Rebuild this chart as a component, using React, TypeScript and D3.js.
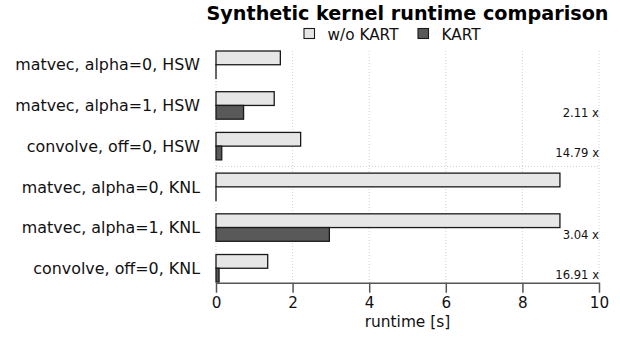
import React, { useRef, useEffect } from 'react';
import * as d3 from 'd3';

const categories = [
	'matvec, alpha=0, HSW',
	'matvec, alpha=1, HSW',
	'convolve, off=0, HSW',
	'matvec, alpha=0, KNL',
	'matvec, alpha=1, KNL',
	'convolve, off=0, KNL',
];
const withoutKart = [1.68, 1.52, 2.21, 8.98, 8.98, 1.35];
const withKart = [0, 0.72, 0.15, 0, 2.96, 0.08];
const speedupLabels = ['', '2.11 x', '14.79 x', '', '3.04 x', '16.91 x'];
const xTicks = [0, 2, 4, 6, 8, 10];
const seriesNames = ['w/o KART', 'KART'];
const seriesColors = ['#e6e6e6', '#595959'];

const width = 620;
const height = 337;
const marginLeft = 216;
const marginRight = 21;
const plotTop = 51;
const plotBottom = 282;
const font = '"DejaVu Sans", sans-serif';

const App: React.FC = () => {
	const svgRef = useRef<SVGSVGElement | null>(null);

	useEffect(() => {
		if (!svgRef.current) return;
		const svg = d3.select(svgRef.current);
		svg.selectAll('*').remove();

		const x = d3.scaleLinear().domain([0, 10]).range([marginLeft, width - marginRight]);
		const y = d3.scaleBand<string>()
			.domain(categories)
			.range([plotTop, plotBottom])
			.paddingInner(0.325)
			.paddingOuter(0);
		const sub = d3.scaleBand<string>().domain(seriesNames).range([0, y.bandwidth()]);

		// grid
		const grid = svg.append('g');
		grid.selectAll('line.v')
			.data(xTicks)
			.join('line')
			.attr('x1', d => x(d)).attr('x2', d => x(d))
			.attr('y1', plotTop).attr('y2', plotBottom)
			.attr('stroke', '#c8c8c8')
			.attr('stroke-width', 0.8)
			.attr('stroke-dasharray', '1,2');
		// separator between HSW and KNL groups
		const sepY = ((y(categories[2]) as number) + y.bandwidth() + (y(categories[3]) as number)) / 2;
		grid.append('line')
			.attr('x1', marginLeft).attr('x2', width - marginRight)
			.attr('y1', sepY).attr('y2', sepY)
			.attr('stroke', '#c8c8c8')
			.attr('stroke-width', 0.8)
			.attr('stroke-dasharray', '1,2');

		// bars
		const groups = svg.append('g')
			.selectAll('g')
			.data(categories)
			.join('g')
			.attr('transform', d => `translate(0,${y(d)})`);

		groups.append('rect')
			.attr('x', x(0))
			.attr('y', sub(seriesNames[0]) as number)
			.attr('width', (_, i) => Math.max(x(withoutKart[i]) - x(0), 0.01))
			.attr('height', sub.bandwidth())
			.attr('fill', seriesColors[0])
			.attr('stroke', '#1a1a1a')
			.attr('stroke-width', 1.3);

		groups.append('rect')
			.attr('x', x(0))
			.attr('y', sub(seriesNames[1]) as number)
			.attr('width', (_, i) => Math.max(x(withKart[i]) - x(0), 0.01))
			.attr('height', sub.bandwidth())
			.attr('fill', seriesColors[1])
			.attr('stroke', '#1a1a1a')
			.attr('stroke-width', 1.3);

		// category labels
		groups.append('text')
			.attr('x', marginLeft - 16)
			.attr('y', y.bandwidth() / 2)
			.attr('dy', '0.36em')
			.attr('text-anchor', 'end')
			.attr('font-family', font)
			.attr('font-size', 15.9)
			.attr('fill', '#111')
			.text(d => d);

		// speedup labels
		groups.append('text')
			.attr('x', x(10))
			.attr('y', y.bandwidth() - 2.5)
			.attr('text-anchor', 'end')
			.attr('font-family', font)
			.attr('font-size', 11.6)
			.attr('fill', '#111')
			.text((_, i) => speedupLabels[i]);

		// x-axis
		const axis = svg.append('g')
			.attr('transform', `translate(0,${plotBottom + 0.7})`)
			.call(d3.axisBottom(x).tickValues(xTicks).tickSize(10).tickPadding(4.5).tickSizeOuter(0));
		axis.select('.domain').attr('stroke', '#555').attr('stroke-width', 1.5);
		axis.selectAll('.tick line').attr('stroke', '#555').attr('stroke-width', 1.5);
		axis.selectAll('.tick text')
			.attr('font-family', font)
			.attr('font-size', 15.2)
			.attr('fill', '#111');

		svg.append('text')
			.attr('x', (x(0) + x(10)) / 2)
			.attr('y', 326.5)
			.attr('text-anchor', 'middle')
			.attr('font-family', font)
			.attr('font-size', 15.4)
			.attr('fill', '#111')
			.text('runtime [s]');

		// title
		svg.append('text')
			.attr('x', (x(0) + x(10)) / 2)
			.attr('y', 20.3)
			.attr('text-anchor', 'middle')
			.attr('font-family', font)
			.attr('font-size', 19.2)
			.attr('font-weight', 'bold')
			.attr('fill', '#000')
			.text('Synthetic kernel runtime comparison');

		// legend
		const legendX = [304, 418];
		const legend = svg.append('g')
			.selectAll('g')
			.data(seriesNames)
			.join('g')
			.attr('transform', (_, i) => `translate(${legendX[i]},28.5)`);
		legend.append('rect')
			.attr('width', 10.5)
			.attr('height', 10)
			.attr('fill', (_, i) => seriesColors[i])
			.attr('stroke', '#1a1a1a')
			.attr('stroke-width', 1.1);
		legend.append('text')
			.attr('x', 23.5)
			.attr('y', 11)
			.attr('font-family', font)
			.attr('font-size', 15.3)
			.attr('fill', '#111')
			.text(d => d);

		return () => { svg.selectAll('*').remove(); };
	}, []);

	return (
		<svg
			ref={svgRef}
			width={width}
			height={height}
			style={{ position: 'absolute', left: 0, top: 0, background: '#fff' }}
		/>
	);
};

export default App;
